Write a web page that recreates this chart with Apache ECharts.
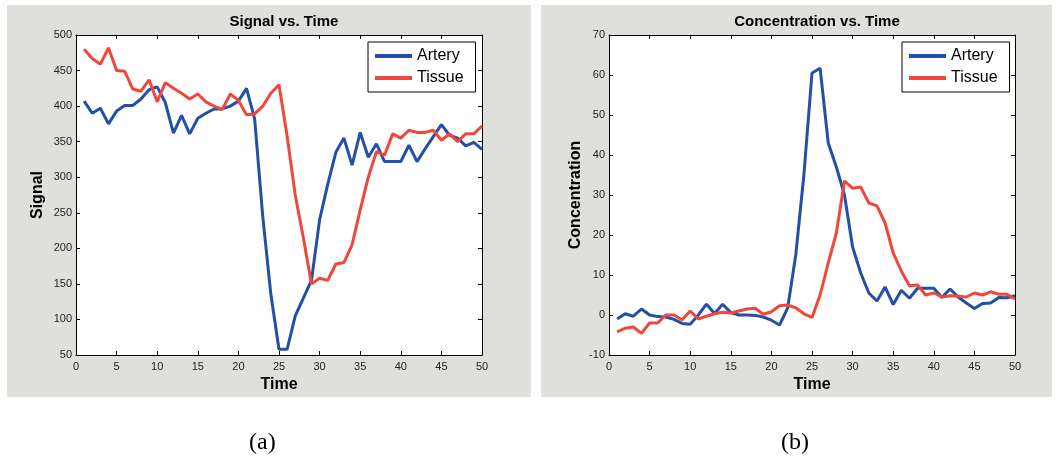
<!DOCTYPE html>
<html>
<head>
<meta charset="utf-8">
<script src="https://cdn.jsdelivr.net/npm/echarts@6/dist/echarts.min.js"></script>
<style>
  html, body { margin: 0; padding: 0; background: #fff; }
  #main { width: 1059px; height: 463px; }
</style>
</head>
<body>
<div id="main"></div>
<script>
  // time points (x)
  var times = [1, 2, 3, 4, 5, 6, 7, 8, 9, 10, 11, 12, 13, 14, 15, 16, 17, 18, 19, 20,
    21, 22, 23, 24, 25, 26, 27, 28, 29, 30, 31, 32, 33, 34, 35, 36, 37, 38, 39, 40,
    41, 42, 43, 44, 45, 46, 47, 48, 49, 50];

  // (a) Signal vs. Time
  var signalArtery = [407, 390, 397, 375, 393, 401, 401, 410, 423, 427, 405, 362, 387, 361, 383, 390, 396, 396, 400, 407,
    425, 382, 245, 135, 58, 58, 105, 130, 155, 240, 290, 335, 355, 317, 363, 328, 347, 322, 322, 322,
    345, 322, 340, 357, 374, 359, 355, 344, 349, 339];
  var signalTissue = [480, 467, 459, 482, 450, 449, 424, 421, 437, 406, 433, 425, 418, 410, 417, 406, 400, 395, 417, 408,
    388, 389, 400, 418, 430, 358, 275, 215, 150, 158, 155, 178, 180, 205, 254, 300, 336, 331, 361, 355,
    366, 363, 363, 366, 352, 361, 350, 361, 361, 372];

  // (b) Concentration vs. Time
  var concArtery = [-1, 0.3, -0.3, 1.5, 0, -0.4, -0.5, -1.1, -2.1, -2.3, 0, 2.7, 0.4, 2.7, 0.6, 0, 0, -0.1, -0.5, -1.3,
    -2.5, 1.7, 15, 35, 60.5, 61.7, 43, 37, 30, 17, 10.5, 5.5, 3.5, 7, 2.6, 6.2, 4.2, 6.7, 6.7, 6.7,
    4.4, 6.5, 4.5, 3, 1.6, 2.9, 3, 4.4, 4.3, 4.8];
  var concTissue = [-4.2, -3.3, -3, -4.6, -2, -2, 0, 0, -1.2, 1, -1, -0.3, 0.3, 0.7, 0.5, 1, 1.5, 1.7, 0.2, 0.8,
    2.3, 2.5, 1.8, 0.3, -0.6, 5, 13, 20.5, 33.5, 31.7, 32, 28, 27.3, 23, 15.5, 11, 7.3, 7.5, 5, 5.5,
    4.5, 4.8, 4.7, 4.5, 5.5, 5, 5.8, 5.2, 5.2, 4];

  var xTicks = [0, 50, 5];
  var signalTicks = [50, 500, 50];
  var concTicks = [-10, 70, 10];

  var blue = '#2150a6';
  var red = '#f1473b';
  var font = 'Liberation Sans, Arial, sans-serif';

  function pairs(ys) {
    return times.map(function (t, i) { return [t, ys[i]]; });
  }

  function xAx(grid, pos, ticks, showLabel, name) {
    return {
      type: 'value', gridIndex: grid, position: pos,
      min: ticks[0], max: ticks[1], interval: ticks[2],
      name: name, nameLocation: 'middle', nameGap: 20,
      nameTextStyle: { fontFamily: font, fontSize: 16, fontWeight: 'bold', color: '#000' },
      axisLine: { show: true, onZero: false, lineStyle: { color: '#000', width: 1 } },
      axisTick: { show: true, inside: true, length: 4, lineStyle: { color: '#000' } },
      axisLabel: { show: showLabel, fontFamily: font, fontSize: 11, color: '#222', margin: 6 },
      splitLine: { show: false }
    };
  }

  function yAx(grid, pos, ticks, showLabel, name, gap) {
    return {
      type: 'value', gridIndex: grid, position: pos,
      min: ticks[0], max: ticks[1], interval: ticks[2],
      name: name, nameLocation: 'middle', nameGap: gap,
      nameTextStyle: { fontFamily: font, fontSize: 16, fontWeight: 'bold', color: '#000' },
      axisLine: { show: true, onZero: false, lineStyle: { color: '#000', width: 1 } },
      axisTick: { show: true, inside: true, length: 4, lineStyle: { color: '#000' } },
      axisLabel: { show: showLabel, fontFamily: font, fontSize: 11, color: '#222', margin: 4 },
      splitLine: { show: false }
    };
  }

  function line(name, data, color, xi, yi) {
    return {
      name: name, type: 'line', data: pairs(data),
      xAxisIndex: xi, yAxisIndex: yi,
      symbol: 'none', smooth: false,
      lineStyle: { color: color, width: 3 },
      itemStyle: { color: color },
      animation: false
    };
  }

  function legend(left) {
    return {
      data: ['Artery', 'Tissue'],
      orient: 'vertical', left: left, top: 42,
      backgroundColor: '#fff', borderColor: '#000', borderWidth: 1,
      padding: [6, 12, 6, 7], itemGap: 6,
      icon: 'rect', itemWidth: 37, itemHeight: 4,
      textStyle: { fontFamily: font, fontSize: 16, color: '#000' },
      selectedMode: false
    };
  }

  var chart = echarts.init(document.getElementById('main'));
  chart.setOption({
    backgroundColor: '#fff',
    animation: false,
    graphic: [
      { type: 'rect', z: -100, shape: { x: 7, y: 5, width: 524, height: 392 }, style: { fill: '#dfdfdb' } },
      { type: 'rect', z: -100, shape: { x: 541, y: 5, width: 511, height: 392 }, style: { fill: '#dfdfdb' } },
      { type: 'text', left: 249, top: 431, style: { text: '(a)', font: '24px "Liberation Serif", serif', fill: '#000' } },
      { type: 'text', left: 781, top: 431, style: { text: '(b)', font: '24px "Liberation Serif", serif', fill: '#000' } }
    ],
    title: [
      { text: 'Signal vs. Time', left: 279, top: 9, textAlign: 'center',
        textStyle: { fontFamily: font, fontSize: 15, fontWeight: 'bold', color: '#000' } },
      { text: 'Concentration vs. Time', left: 812, top: 9, textAlign: 'center',
        textStyle: { fontFamily: font, fontSize: 15, fontWeight: 'bold', color: '#000' } }
    ],
    legend: [legend(368), legend(902)],
    grid: [
      { left: 76, right: 577, top: 35, bottom: 108, show: true, backgroundColor: '#fff', borderWidth: 0 },
      { left: 609, right: 44, top: 35, bottom: 108, show: true, backgroundColor: '#fff', borderWidth: 0 }
    ],
    xAxis: [
      xAx(0, 'bottom', xTicks, true, 'Time'),
      xAx(0, 'top', xTicks, false, ''),
      xAx(1, 'bottom', xTicks, true, 'Time'),
      xAx(1, 'top', xTicks, false, '')
    ],
    yAxis: [
      yAx(0, 'left', signalTicks, true, 'Signal', 30),
      yAx(0, 'right', signalTicks, false, '', 0),
      yAx(1, 'left', concTicks, true, 'Concentration', 25),
      yAx(1, 'right', concTicks, false, '', 0)
    ],
    series: [
      line('Artery', signalArtery, blue, 0, 0),
      line('Tissue', signalTissue, red, 0, 0),
      line('Artery', concArtery, blue, 2, 2),
      line('Tissue', concTissue, red, 2, 2)
    ]
  });
</script>
</body>
</html>
